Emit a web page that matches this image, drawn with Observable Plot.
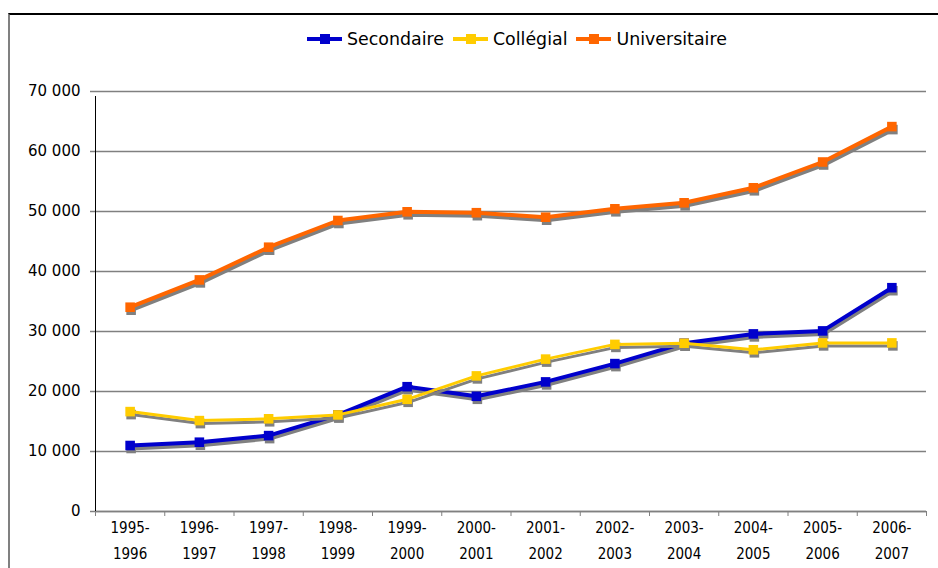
<!DOCTYPE html>
<html>
<head>
<meta charset="utf-8">
<script src="https://cdn.jsdelivr.net/npm/d3@7"></script>
<script src="https://cdn.jsdelivr.net/npm/@observablehq/plot@0.6"></script>
<style>
  html, body { margin: 0; padding: 0; background: #fff; }
  #wrap { position: relative; width: 938px; height: 568px; overflow: hidden; font-family: "DejaVu Sans", Verdana, sans-serif; }
  #frame { position: absolute; left: 8px; top: 13px; width: 940px; height: 600px; border-top: 2px solid #000; border-left: 2px solid #808080; pointer-events: none; }
  #legend { position: absolute; left: 307px; top: 29px; display: flex; align-items: center; font-size: 17.4px; color: #000; white-space: nowrap; }
  .item { display: flex; align-items: center; margin-right: 9px; }
  .sw { position: relative; width: 35px; height: 4px; margin-right: 5px; }
  .sw i { position: absolute; left: 13px; top: -3px; width: 10px; height: 10px; }
</style>
</head>
<body>
<div id="wrap"></div>
<script>
const categories = ["1995-\n1996","1996-\n1997","1997-\n1998","1998-\n1999","1999-\n2000","2000-\n2001","2001-\n2002","2002-\n2003","2003-\n2004","2004-\n2005","2005-\n2006","2006-\n2007"];
const seriesNames = ["Secondaire", "Collégial", "Universitaire"];
const secondaire = [11000, 11550, 12650, 16100, 20800, 19200, 21600, 24650, 28050, 29600, 30100, 37300];
const collegial = [16650, 15150, 15450, 16100, 18700, 22600, 25400, 27850, 28050, 26950, 28100, 28100];
const universitaire = [34050, 38600, 44050, 48500, 49950, 49800, 49050, 50450, 51450, 53950, 58250, 64150];
const colors = ["#0000CC", "#FFCC00", "#FF6600"];
const widths = [4, 3, 4];
const yTicks = [0, 10000, 20000, 30000, 40000, 50000, 60000, 70000];

const seriesValues = [secondaire, collegial, universitaire];
const rows = seriesValues.map((vals, s) => vals.map((v, i) => ({series: seriesNames[s], i, x: i + 0.5, v})));
const fmt = d => d3.format(",")(d).replace(/,/g, " ");

const marks = [
  Plot.gridY(yTicks, {stroke: "#808080", strokeOpacity: 1, strokeWidth: 1.5}),
  Plot.axisY(yTicks, {label: null, tickSize: 5, tickPadding: 10, stroke: "#808080", strokeWidth: 1.5, tickFormat: fmt, fontSize: 15, fontFamily: "DejaVu Sans", fill: "#000"}),
  Plot.ruleY([0], {stroke: "#808080", strokeWidth: 1.5}),
  Plot.axisX(d3.range(13), {label: null, tickSize: 5, stroke: "#808080", strokeWidth: 1, tickFormat: () => ""}),
  Plot.axisX(categories.map((c, i) => i + 0.5), {label: null, tickSize: 0, tickPadding: 4, tickFormat: d => categories[Math.floor(d)], fontSize: 15, fontFamily: "DejaVu Sans Condensed", lineHeight: 1.68, fill: "#000"}),
  Plot.ruleX([0], {y1: 0, y2: 70000, stroke: "#000", strokeWidth: 1, insetBottom: -5})
];
rows.forEach((data, s) => {
  marks.push(
    Plot.line(data, {x: "x", y: "v", stroke: "#808080", strokeWidth: widths[s], dx: 1, dy: 3}),
    Plot.dot(data, {x: "x", y: "v", symbol: "square", r: 5.4, fill: "#808080", dx: 1, dy: 3}),
    Plot.line(data, {x: "x", y: "v", stroke: colors[s], strokeWidth: widths[s]}),
    Plot.dot(data, {x: "x", y: "v", symbol: "square", r: 5.4, fill: colors[s]})
  );
});

const chart = Plot.plot({
  width: 938,
  height: 568,
  marginTop: 91,
  marginBottom: 57,
  marginLeft: 95,
  marginRight: 12,
  style: {fontFamily: "DejaVu Sans", fontSize: "15px", background: "transparent"},
  x: {type: "linear", domain: [0, 12], axis: null},
  y: {domain: [0, 70000], axis: null},
  marks
});

const wrap = document.getElementById("wrap");
wrap.appendChild(chart);
const frame = document.createElement("div");
frame.id = "frame";
wrap.appendChild(frame);
const legend = document.createElement("div");
legend.id = "legend";
seriesNames.forEach((n, s) => {
  const item = document.createElement("div");
  item.className = "item";
  const sw = document.createElement("span");
  sw.className = "sw";
  sw.style.background = colors[s];
  const sq = document.createElement("i");
  sq.style.background = colors[s];
  sw.appendChild(sq);
  const t = document.createElement("span");
  t.textContent = n;
  item.appendChild(sw);
  item.appendChild(t);
  legend.appendChild(item);
});
wrap.appendChild(legend);
</script>
</body>
</html>
